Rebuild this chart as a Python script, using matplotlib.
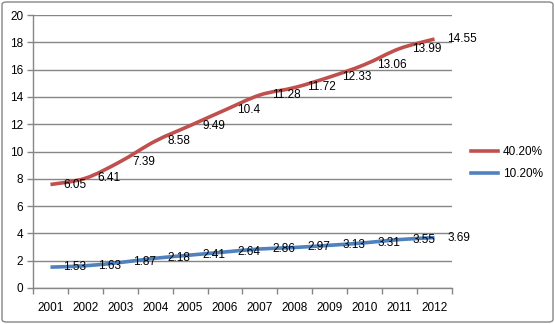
import matplotlib
matplotlib.use('Agg')
import matplotlib.pyplot as plt
import numpy as np
from matplotlib.path import Path
from matplotlib.patches import PathPatch, FancyBboxPatch
from matplotlib.lines import Line2D

years = ['2001', '2002', '2003', '2004', '2005', '2006',
         '2007', '2008', '2009', '2010', '2011', '2012']
low = [1.53, 1.63, 1.87, 2.18, 2.41, 2.64, 2.86, 2.97, 3.13, 3.31, 3.55, 3.69]
high = [6.05, 6.41, 7.39, 8.58, 9.49, 10.4, 11.28, 11.72, 12.33, 13.06, 13.99, 14.55]
names = ['40.20%', '10.20%']
colors = ['#C0504D', '#4F81BD']

plt.rcParams['font.family'] = ['Liberation Sans', 'DejaVu Sans']
plt.rcParams['font.size'] = 8.5

def smooth_path(x, y):
    # excel-like smoothed line: cubic bezier with catmull-rom style handles
    verts = [(x[0], y[0])]
    codes = [Path.MOVETO]
    n = len(x)
    for i in range(n - 1):
        x0, y0 = (x[i - 1], y[i - 1]) if i > 0 else (x[i], y[i])
        x3, y3 = (x[i + 2], y[i + 2]) if i + 2 < n else (x[i + 1], y[i + 1])
        c1 = (x[i] + (x[i + 1] - x0) / 6, y[i] + (y[i + 1] - y0) / 6)
        c2 = (x[i + 1] - (x3 - x[i]) / 6, y[i + 1] - (y3 - y[i]) / 6)
        verts += [c1, c2, (x[i + 1], y[i + 1])]
        codes += [Path.CURVE4] * 3
    return Path(verts, codes)

fig = plt.figure(figsize=(5.55, 3.24), dpi=100)
ax = fig.add_axes([33 / 555, 1 - 288 / 324, 419 / 555, 273 / 324])

xs = np.arange(len(years))
stacked = np.array(low) + np.array(high)

for vals, labels, c in [(stacked, high, colors[0]), (low, low, colors[1])]:
    ax.add_patch(PathPatch(smooth_path(xs, vals), fill=False, edgecolor=c,
                           lw=2.6, capstyle='butt', joinstyle='round', zorder=3))
    for x, v, lab in zip(xs, vals, labels):
        ax.annotate(f'{lab:g}', (x, v), xytext=(9, 0), textcoords='offset points',
                    va='center', ha='left', color='black', zorder=4)

ax.set_xlim(-0.5, len(years) - 0.5)
ax.set_ylim(0, 20)
ax.set_yticks(range(0, 21, 2))
ax.set_xticks(xs)
ax.set_xticklabels(years)
ax.set_xticks(np.arange(-0.5, len(years), 1), minor=True)
ax.tick_params(axis='x', which='major', length=0, pad=10)
ax.tick_params(axis='x', which='minor', length=4, color='#868686', width=1)
ax.tick_params(axis='y', length=4, color='#868686', width=1, pad=3)
ax.grid(axis='y', color='#868686', lw=1)
ax.set_axisbelow(True)
for s in ['top', 'right']:
    ax.spines[s].set_visible(False)
for s in ['left', 'bottom']:
    ax.spines[s].set_color('#868686')
    ax.spines[s].set_linewidth(1)

handles = [Line2D([], [], color=c, lw=2.6) for c in colors]
fig.legend(handles, names, loc='center left', bbox_to_anchor=(460 / 555, 1 - 163 / 324),
           frameon=False, handlelength=2.3, handletextpad=0.42, labelspacing=0.9)

fig.patches.append(FancyBboxPatch((2 / 555, 2 / 324), 551 / 555, 320 / 324,
                                  boxstyle='round,pad=0,rounding_size=0.008',
                                  transform=fig.transFigure, fill=False,
                                  edgecolor='#868686', lw=1))

fig.savefig('out.png', dpi=100)
